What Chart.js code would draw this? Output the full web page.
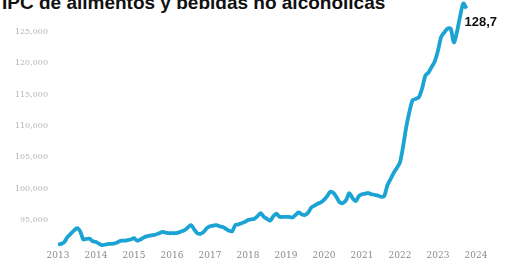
<!DOCTYPE html>
<html>
<head>
<meta charset="utf-8">
<script src="https://cdn.jsdelivr.net/npm/chart.js@4/dist/chart.umd.min.js"></script>
<style>
  html, body { margin: 0; padding: 0; background: #fff; overflow: hidden; }
  #wrap { position: relative; width: 514px; height: 262px; }
  #title {
    position: absolute; left: 2px; top: -8px; margin: 0;
    font: bold 19px "Liberation Sans", Arial, sans-serif; color: #111;
    white-space: nowrap;
  }
  canvas { position: absolute; left: 0; top: 0; }
</style>
</head>
<body>
<div id="wrap">
  <h1 id="title">IPC de alimentos y bebidas no alcohólicas</h1>
  <canvas id="ipc" width="514" height="262"></canvas>
</div>
<script>
const START_YEAR = 2013;
const YEAR_TICKS = [2013, 2014, 2015, 2016, 2017, 2018, 2019, 2020, 2021, 2022, 2023, 2024];
const Y_TICKS = [95, 100, 105, 110, 115, 120, 125];

// monthly index, Jan 2013 .. Oct 2023
const ipcValues = [
  91.1, 91.2, 91.5, 92.3, 92.8, 93.3, 93.7, 93.2, 91.9, 92.0, 92.0, 91.6,
  91.5, 91.2, 91.0, 91.1, 91.2, 91.2, 91.3, 91.5, 91.7, 91.7, 91.8, 91.9,
  92.1, 91.7, 91.9, 92.2, 92.4, 92.5, 92.6, 92.7, 92.9, 93.1, 93.0, 92.9,
  92.9, 92.9, 93.0, 93.2, 93.4, 93.8, 94.2, 93.5, 92.9, 92.8, 93.1, 93.7,
  94.0, 94.1, 94.2, 94.0, 93.9, 93.6, 93.3, 93.2, 94.2, 94.3, 94.5, 94.7,
  95.0, 95.1, 95.2, 95.6, 96.1, 95.5, 95.2, 94.9, 95.6, 96.0, 95.5, 95.5,
  95.5, 95.5, 95.4, 95.8, 96.2, 95.9, 95.8, 96.2, 97.0, 97.3, 97.6, 97.8,
  98.2, 98.8, 99.5, 99.3, 98.6, 97.8, 97.7, 98.2, 99.3, 98.5, 98.0, 98.8,
  99.1, 99.2, 99.3, 99.1, 99.0, 98.9, 98.7, 98.8, 100.5, 101.5, 102.5, 103.3,
  104.2, 106.8, 109.9, 112.3, 114.1, 114.3, 114.6, 116.0, 118.0, 118.5, 119.4, 120.3,
  122.0, 124.2, 124.9, 125.5, 125.5, 123.3, 125.0, 127.5, 129.5, 128.7
];

const points = ipcValues.map((v, i) => ({ x: START_YEAR + i / 12, y: v }));
const fmtTick = (v) => v.toFixed(3).replace('.', ',');
const fmtLast = (v) => v.toFixed(1).replace('.', ',');

const endLabel = {
  id: 'endLabel',
  afterDatasetsDraw(chart) {
    const meta = chart.getDatasetMeta(0);
    const last = meta.data[meta.data.length - 1];
    const ctx = chart.ctx;
    ctx.save();
    ctx.font = 'bold 13px "Liberation Sans", Arial, sans-serif';
    ctx.fillStyle = '#111';
    ctx.textAlign = 'left';
    ctx.textBaseline = 'middle';
    ctx.fillText(fmtLast(ipcValues[ipcValues.length - 1]), last.x - 2, last.y + 14);
    ctx.restore();
  }
};

new Chart(document.getElementById('ipc'), {
  type: 'line',
  data: {
    datasets: [{
      data: points,
      borderColor: '#1aa3d3',
      borderWidth: 3.8,
      pointRadius: 0,
      tension: 0.3,
      fill: false,
      clip: false
    }]
  },
  options: {
    responsive: false,
    animation: false,
    layout: { autoPadding: false, padding: { left: 0, right: 38, top: 0, bottom: 0 } },
    plugins: { legend: { display: false }, tooltip: { enabled: false } },
    scales: {
      x: {
        type: 'linear',
        min: 2013,
        max: 2024,
        grid: { display: false, drawTicks: false },
        border: { display: false },
        afterBuildTicks: (axis) => { axis.ticks = YEAR_TICKS.map((v) => ({ value: v })); },
        afterFit: (axis) => { axis.height = 15; },
        ticks: {
          padding: 3,
          color: '#8a8a8a',
          font: { family: 'DejaVu Serif', size: 9 },
          maxRotation: 0,
          autoSkip: false,
          callback: (v) => String(v)
        }
      },
      y: {
        min: 90.7,
        max: 127.7,
        grid: { display: false, drawTicks: false },
        border: { display: false },
        afterBuildTicks: (axis) => { axis.ticks = Y_TICKS.map((v) => ({ value: v })); },
        afterFit: (axis) => { axis.width = 58; },
        ticks: {
          padding: 10,
          color: '#b5b5b5',
          font: { family: 'DejaVu Serif', size: 8 },
          callback: (v) => fmtTick(v)
        }
      }
    }
  },
  plugins: [endLabel]
});
</script>
</body>
</html>
